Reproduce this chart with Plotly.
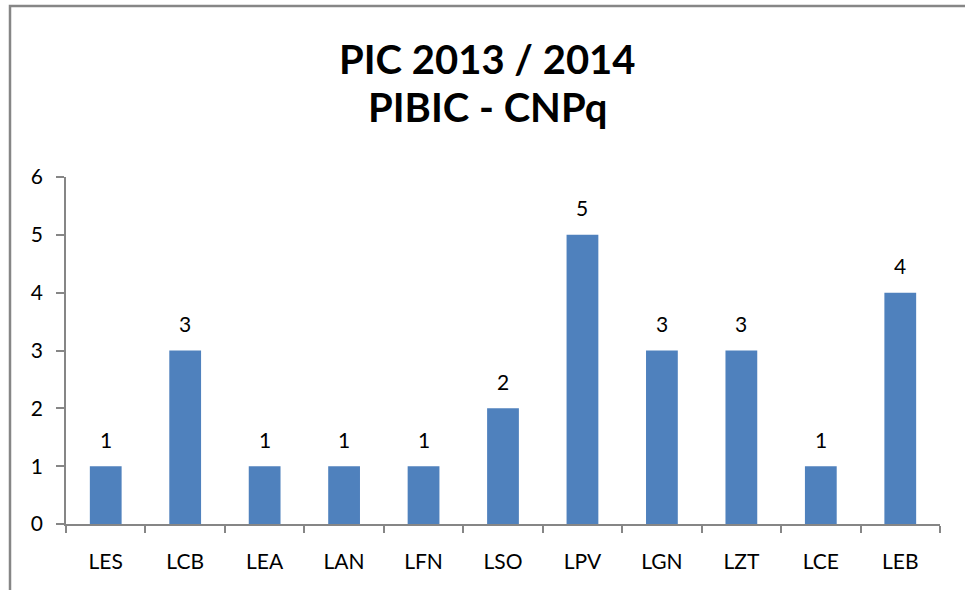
import plotly.graph_objects as go

categories = ["LES", "LCB", "LEA", "LAN", "LFN", "LSO", "LPV", "LGN", "LZT", "LCE", "LEB"]
values = [1, 3, 1, 1, 1, 2, 5, 3, 3, 1, 4]
title_lines = ["PIC 2013 / 2014", "PIBIC - CNPq"]

W, H = 965, 590
L, R, T, B = 66, 25, 177, 66
pw, ph = W - L - R, H - T - B

def px_x(x):
    return (x - L) / pw

def px_y(y):
    return (H - B - y) / ph

FONT = "Lato"
BAR = "#4F81BD"
AX = "#868686"

fig = go.Figure(go.Bar(x=categories, y=values, marker=dict(color=BAR, line=dict(width=0)), width=0.4))

for c, v in zip(categories, values):
    fig.add_annotation(x=c, y=v, text=str(v), showarrow=False, yanchor="middle", yshift=27,
                       font=dict(family=FONT, size=21, color="#000"))

fig.add_annotation(xref="paper", yref="paper", x=px_x(487), y=px_y(59), text="<b>%s</b>" % title_lines[0],
                   showarrow=False, xanchor="center", yanchor="middle", font=dict(family=FONT, size=40, color="#000"))
fig.add_annotation(xref="paper", yref="paper", x=px_x(487), y=px_y(107), text="<b>%s</b>" % title_lines[1],
                   showarrow=False, xanchor="center", yanchor="middle", font=dict(family=FONT, size=40, color="#000"))

x0, y0 = px_x(10), px_y(6)
fig.add_shape(type="path", xref="paper", yref="paper",
              path=f"M {x0},{px_y(600)} L {x0},{y0} L {px_x(975)},{y0}",
              line=dict(color=AX, width=2.5))

fig.update_layout(
    width=W, height=H, margin=dict(l=L, r=R, t=T, b=B),
    paper_bgcolor="white", plot_bgcolor="white", showlegend=False,
    font=dict(family=FONT, size=21, color="#000"),
)
fig.update_yaxes(range=[0, 6], dtick=1, showgrid=False, zeroline=False, showline=True, linecolor=AX, linewidth=1.5,
                 ticks="outside", ticklen=8, tickcolor=AX, tickwidth=1.5, ticklabelstandoff=9,
                 tickfont=dict(family=FONT, size=21))
fig.update_xaxes(showgrid=False, showline=True, linecolor=AX, linewidth=1.5, ticks="outside", tickson="boundaries",
                 ticklen=7, tickcolor=AX, tickwidth=1.5, ticklabelstandoff=18, tickfont=dict(family=FONT, size=21))

fig.write_html("out.html", config={"displayModeBar": False},
               post_script="document.body.style.margin='0';")
